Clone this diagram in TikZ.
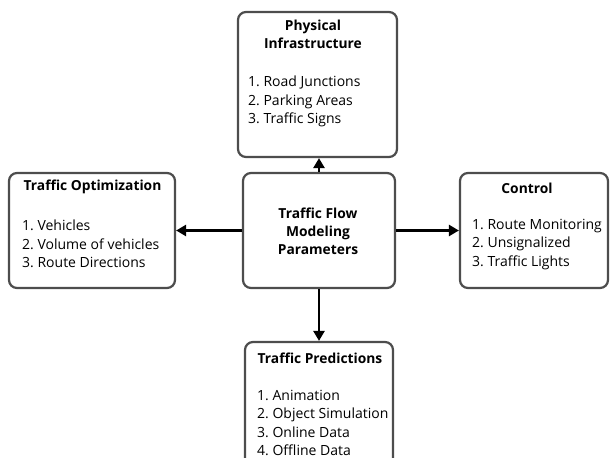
\documentclass[tikz,border=0pt]{standalone}
\usepackage{fontspec}
\setmainfont{Open Sans}
\usetikzlibrary{arrows.meta}
\frenchspacing

\definecolor{boxgray}{HTML}{4D4D4D}

\tikzset{
  block/.style={draw=boxgray, line width=2.2pt, rounded corners=8pt, fill=white, inner sep=0pt},
  head/.style={font=\fontsize{13.8pt}{18pt}\selectfont\bfseries, align=center, inner sep=0pt},
  items/.style={font=\fontsize{14pt}{18.4pt}\selectfont, align=left, inner sep=0pt, anchor=north west},
  link/.style={-{Triangle[length=10pt,width=11pt]}, line width=2.4pt, black}
}

\begin{document}
\begin{tikzpicture}[x=1pt, y=-1pt]
\useasboundingbox (0,0) rectangle (611,458);

% boxes
\node[block, minimum width=152pt, minimum height=115pt] (core) at (319,230.5) {};
\node[block, minimum width=159pt, minimum height=145pt] (phys) at (317.5,84.5) {};
\node[block, minimum width=166pt, minimum height=115pt] (optim) at (92,230.5) {};
\node[block, minimum width=148pt, minimum height=115pt] (ctrl) at (534,230.5) {};
\node[block, minimum width=148pt, minimum height=132pt] (pred) at (319,408) {};

% texts
\node[head] (coreT) at (318,231) {Traffic Flow\\Modeling\\Parameters};
\node[head] (physT) at (313,34) {Physical\\Infrastructure};
\node[items] (physL) at (248,76) {1. Road Junctions\\2. Parking Areas\\3. Traffic Signs};
\node[head] (optimT) at (92.5,187) {Traffic Optimization};
\node[items] (optimL) at (22,220) {1. Vehicles\\2. Volume of vehicles\\3. Route Directions};
\node[head] (ctrlT) at (527,188) {Control};
\node[items] (ctrlL) at (472,219) {1. Route Monitoring\\2. Unsignalized\\3. Traffic Lights};
\node[head] (predT) at (320,358) {Traffic Predictions};
\node[items] (predL) at (257,390) {1. Animation\\2. Object Simulation\\3. Online Data\\4. Offline Data};

% arrows
\draw[link] (core.north) -- (core.north |- phys.south);
\draw[link] (core.west) -- (optim.east);
\draw[link] (core.east) -- (ctrl.west);
\draw[link] (core.south) -- (core.south |- pred.north);
\end{tikzpicture}
\end{document}
